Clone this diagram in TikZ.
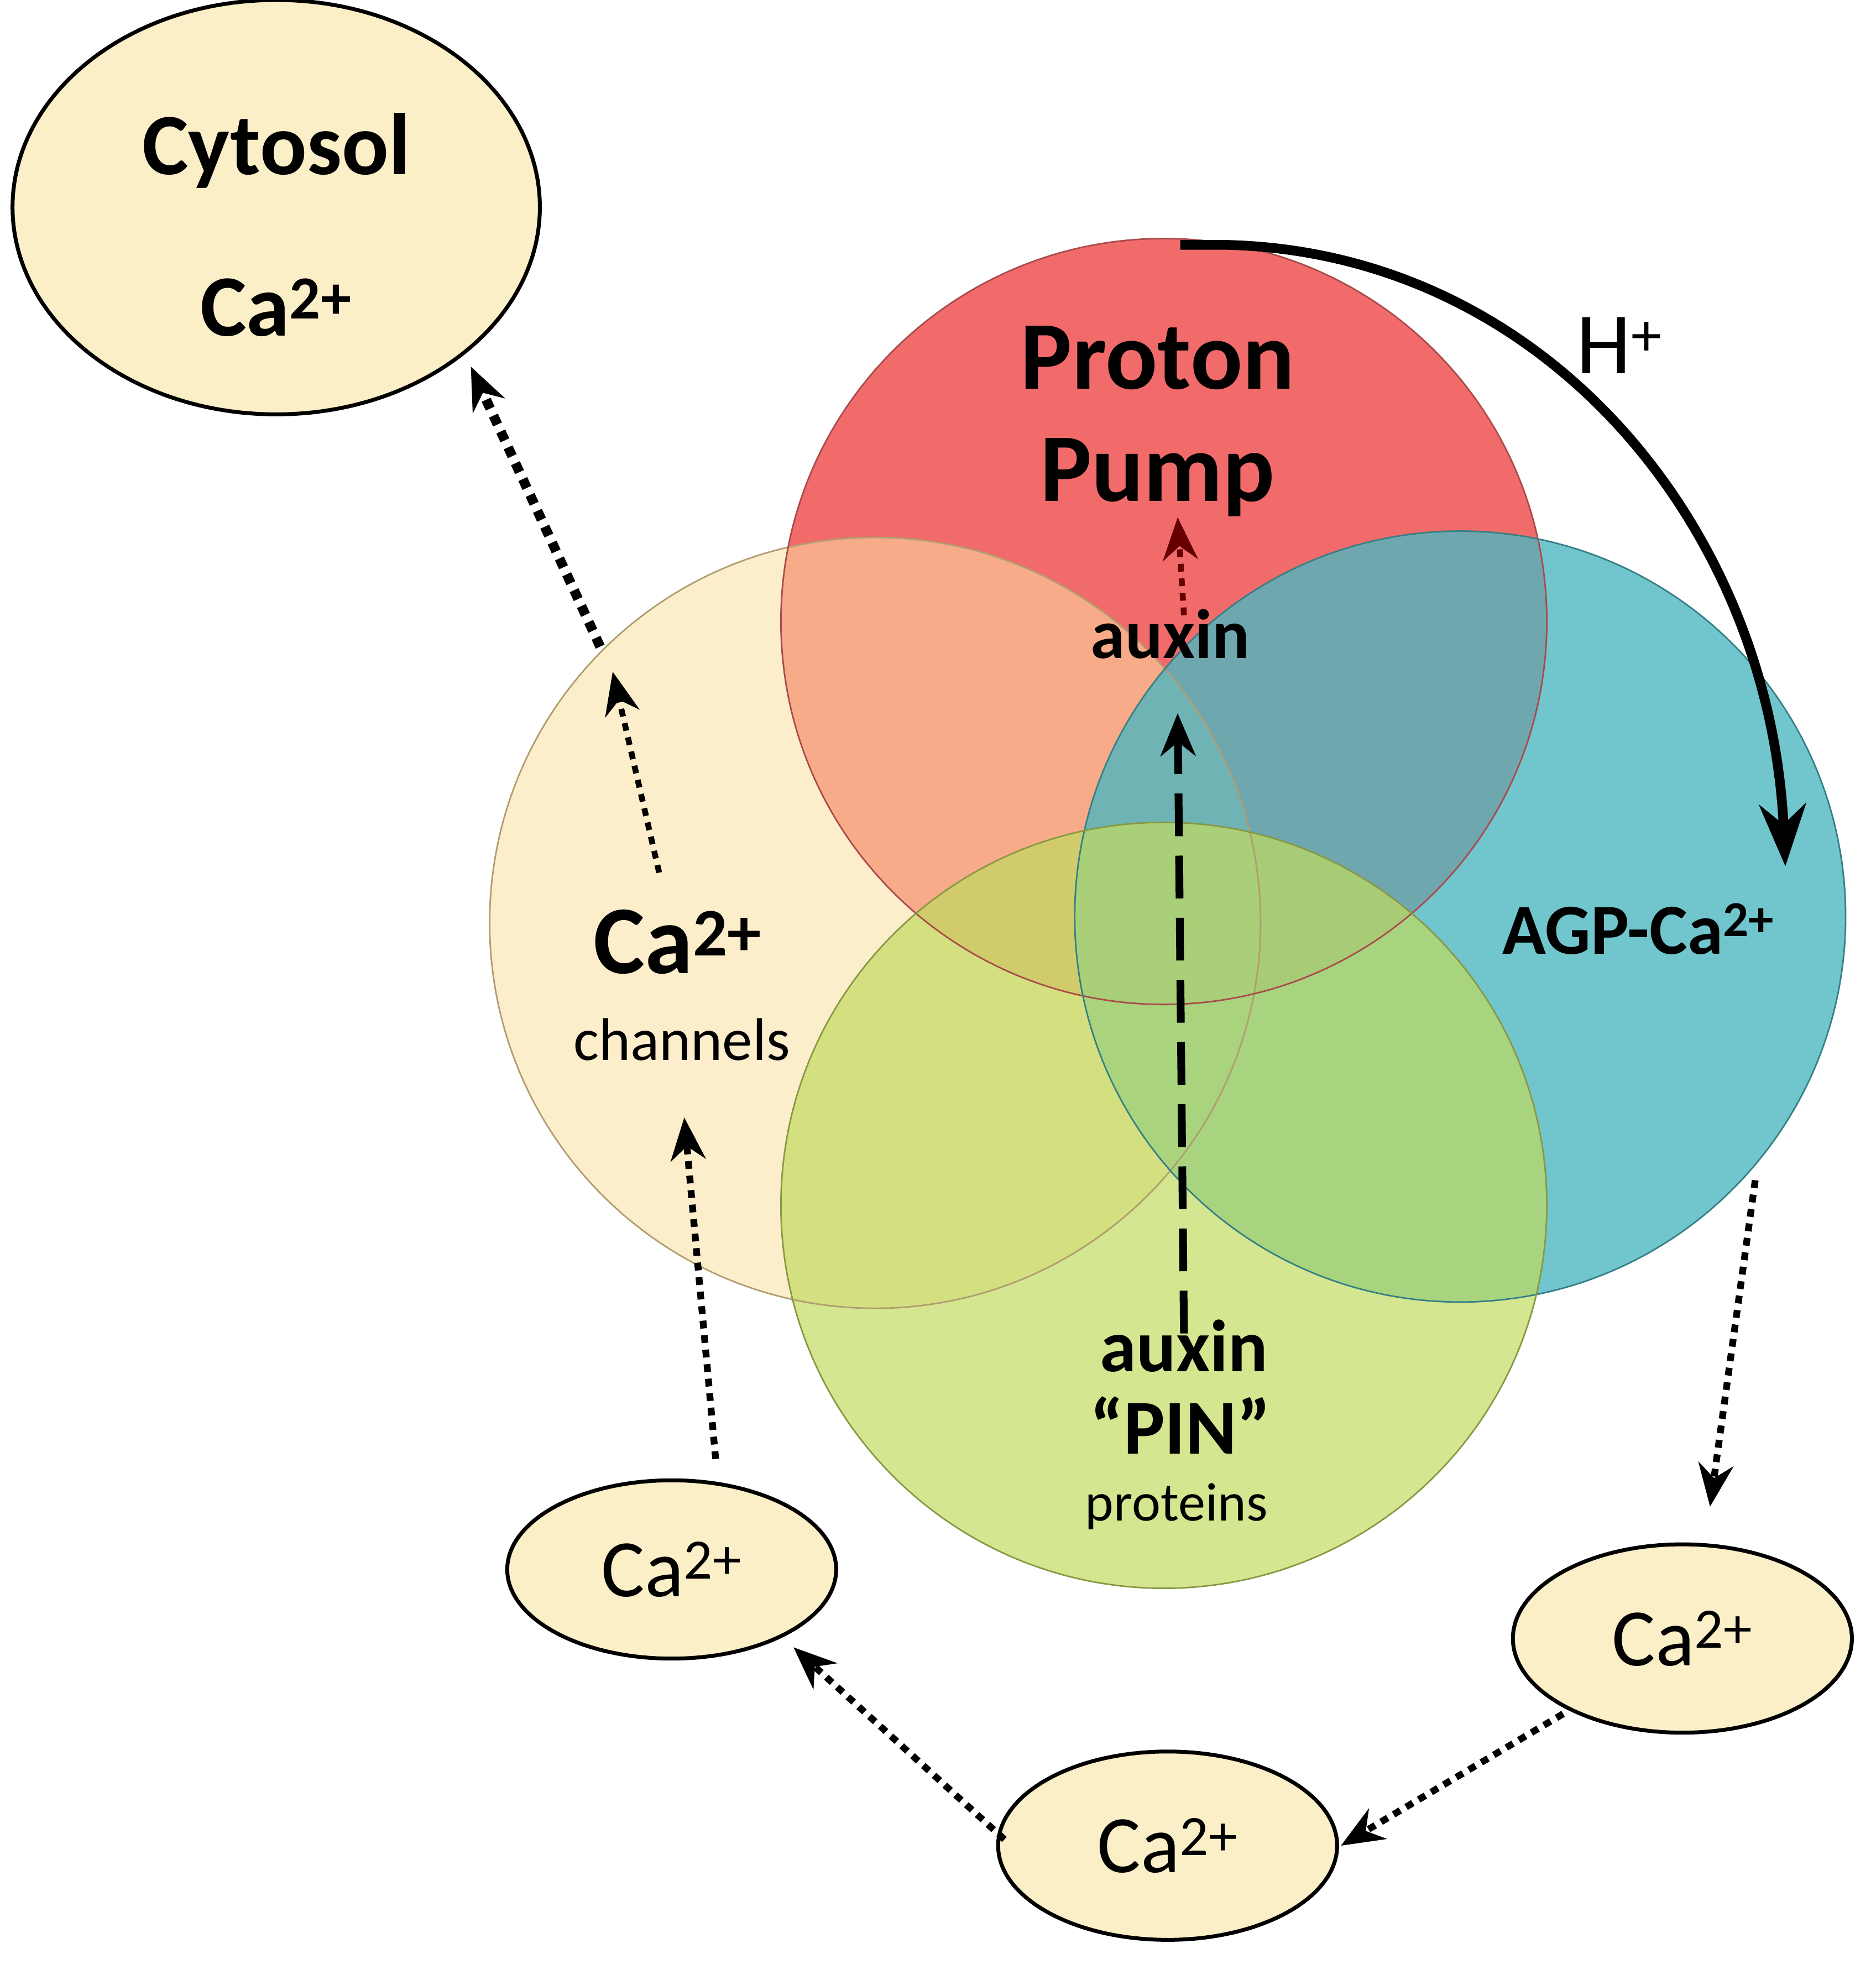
\documentclass[tikz,border=0pt]{standalone}
\usepackage{fontspec}
\setmainfont{Carlito}
\usetikzlibrary{arrows.meta,shapes.geometric}
\newcommand{\sps}[1]{\textsuperscript{#1}}
\begin{document}
\begin{tikzpicture}[x=0.02272cm,y=-0.02272cm,
  ell/.style={draw=black,line width=2pt,fill=cream,ellipse,inner sep=0pt},
  dotarrow/.style={dash pattern=on 4pt off 3.5pt,line width=3.5pt,-{Stealth[length=22pt,width=18pt]}}]
\definecolor{cream}{HTML}{FBEFC8}
\definecolor{cred}{HTML}{F26B6B}
\definecolor{cyel}{HTML}{FCE0A0}
\definecolor{cteal}{HTML}{4DB6BF}
\definecolor{cgreen}{HTML}{C2DB5F}
\useasboundingbox (0,0) rectangle (1494,1577);
% circles
\fill[cred] (927,495) circle (305);
\fill[cyel,opacity=0.55] (697,735) circle (307);
\fill[cteal,opacity=0.8] (1163,730) circle (307);
\fill[cgreen,opacity=0.7] (927,960) circle (305);
\draw[cyel!70!black,line width=0.8pt] (697,735) circle (307);
\draw[cred!70!black,line width=0.8pt] (927,495) circle (305);
\draw[cteal!70!black,line width=0.8pt] (1163,730) circle (307);
\draw[cgreen!70!black,line width=0.8pt] (927,960) circle (305);
% ellipses
\node[ell,minimum width=420*0.02272cm,minimum height=330*0.02272cm] (cyto) at (220,165) {};
\node[ell,minimum width=262*0.02272cm,minimum height=142*0.02272cm] (ca1) at (535,1250) {};
\node[ell,minimum width=270*0.02272cm,minimum height=150*0.02272cm] (ca3) at (1340,1305) {};
\node[ell,minimum width=270*0.02272cm,minimum height=150*0.02272cm] (ca2) at (930,1470) {};
% texts
\node[font=\bfseries\fontsize{45pt}{45pt}\selectfont] (tcy) at (220,120) {Cytosol};
\node[font=\bfseries\fontsize{45pt}{45pt}\selectfont] (tcy2) at (220,245) {Ca\sps{2+}};
\node[font=\bfseries\fontsize{50pt}{50pt}\selectfont] (pp1) at (922,285) {Proton};
\node[font=\bfseries\fontsize{50pt}{50pt}\selectfont] (pp2) at (922,380) {Pump};
\node[font=\bfseries\fontsize{36pt}{36pt}\selectfont] (aux1) at (932,505) {auxin};
\node[font=\bfseries\fontsize{50pt}{50pt}\selectfont] (cach) at (540,750) {Ca\sps{2+}};
\node[font=\fontsize{31pt}{31pt}\selectfont] (chan) at (543,828) {channels};
\node[font=\bfseries\fontsize{37pt}{37pt}\selectfont] (agp) at (1305,740) {AGP-Ca\sps{2+}};
\node[font=\bfseries\fontsize{38pt}{38pt}\selectfont] (aux2) at (943,1072) {auxin};
\node[font=\bfseries\fontsize{40pt}{40pt}\selectfont] (pin) at (940,1135) {“PIN”};
\node[font=\fontsize{28pt}{28pt}\selectfont] (prot) at (937,1200) {proteins};
\node[font=\fontsize{42pt}{42pt}\selectfont] at (ca1) {Ca\sps{2+}};
\node[font=\fontsize{42pt}{42pt}\selectfont] at (ca3) {Ca\sps{2+}};
\node[font=\fontsize{42pt}{42pt}\selectfont] at (ca2) {Ca\sps{2+}};
\node[font=\fontsize{45pt}{45pt}\selectfont] (hp) at (1290,275) {H\sps{+}};
% coordinates
\coordinate (a1) at (525,695); \coordinate (a2) at (488,535);
\coordinate (a3) at (478,515); \coordinate (a4) at (375,292);
\coordinate (b1) at (570,1162); \coordinate (b2) at (545,890);
\coordinate (c1) at (800,1465); \coordinate (c2) at (632,1312);
\coordinate (d1) at (1245,1365); \coordinate (d2) at (1068,1470);
\coordinate (e1) at (1398,940); \coordinate (e2) at (1362,1200);
\coordinate (f1) at (943,490); \coordinate (f2) at (938,412);
\coordinate (g1) at (943,1062); \coordinate (g2) at (938,568);
\coordinate (h1) at (940,195); \coordinate (h2) at (1422,690);
% arrows
\draw[dotarrow,line width=3pt] (a1) -- (a2);
\draw[dotarrow,line width=5pt,dash pattern=on 5pt off 4pt] (a3) -- (a4);
\draw[dotarrow] (b1) -- (b2);
\draw[dotarrow] (c1) -- (c2);
\draw[dotarrow] (d1) -- (d2);
\draw[dotarrow] (e1) -- (e2);
\draw[dotarrow,draw=red!40!black,line width=3pt] (f1) -- (f2);
\draw[dash pattern=on 22pt off 10pt,line width=4pt,-{Stealth[length=22pt,width=18pt]}] (g1) -- (g2);
\draw[line width=5pt,-{Stealth[length=32pt,width=24pt]}] (h1) -- (975,195) .. controls (1230,200) and (1410,420) .. (h2);
\end{tikzpicture}
\end{document}
